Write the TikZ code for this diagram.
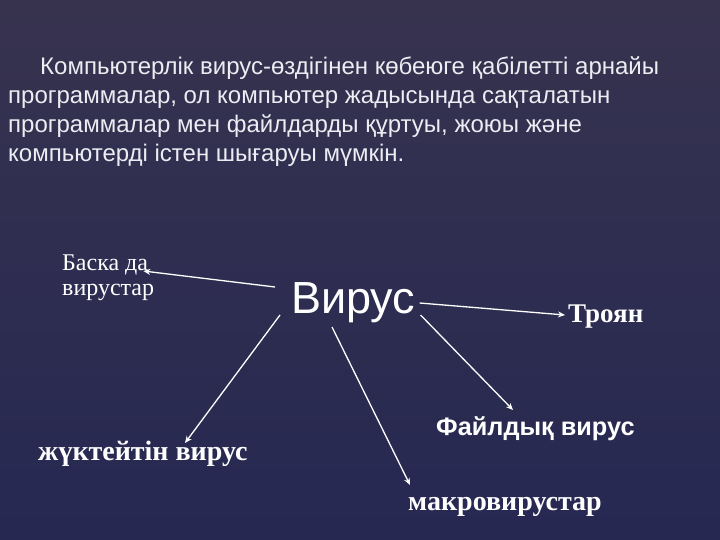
\documentclass[tikz,border=0pt]{standalone}
\usepackage{fontspec}
\setmainfont{Liberation Serif}
\newfontfamily\arialf{Liberation Sans}
\usetikzlibrary{arrows.meta,calc}
\definecolor{bgtop}{HTML}{37334F}
\definecolor{bgbot}{HTML}{262852}
\definecolor{paratext}{HTML}{ECECF2}
\begin{document}
\begin{tikzpicture}[x=1pt,y=-1pt,
  txt/.style={inner sep=0pt, anchor=base west, text=white},
  para/.style={txt, font=\arialf\fontsize{24}{27}\selectfont, text=paratext},
  serif/.style={txt, font=\fontsize{24}{27}\selectfont},
  serifb/.style={txt, font=\bfseries\fontsize{28}{31}\selectfont},
  arr/.style={draw=white, line width=1.3pt, -{Stealth[length=7pt,width=6pt]}}]
\shade[top color=bgtop, bottom color=bgbot] (0,0) rectangle (720,540);
\useasboundingbox (0,0) rectangle (720,540);

\node[para] (p1) at (40,75) {Компьютерлік вирус-өздігінен көбеюге қабілетті арнайы};
\node[para] (p2) at (8,104) {программалар, ол компьютер жадысында сақталатын};
\node[para] (p3) at (8,133) {программалар мен файлдарды құртуы, жоюы және};
\node[para] (p4) at (8,162) {компьютерді істен шығаруы мүмкін.};

\node[serif] (oth) at (62,270) {Баска да};
\node[serif] (oth2) at (62,295) {вирустар};
\node[txt, font=\arialf\fontsize{45}{50}\selectfont] (vir) at (291,313) {Вирус};
\node[txt, font=\bfseries\fontsize{27}{30}\selectfont] (troy) at (568,322) {Троян};
\node[serifb] (zhuk) at (38,460) {жүктейтін вирус};
\node[txt, font=\arialf\bfseries\fontsize{25.3}{28}\selectfont] (fayl) at (436,435) {Файлдық вирус};
\node[serifb] (makro) at (408,510) {макровирустар};

\draw[arr] ([shift={(-16,-26)}]vir.base west) -- ([shift={(-5,1)}]oth.base east);
\draw[arr] ([shift={(4,-10)}]vir.base east) -- ([shift={(-3,-7)}]troy.base west);
\draw[arr] ([shift={(-11,2)}]vir.base west) -- ([shift={(147,-17)}]zhuk.base west);
\draw[arr] ([shift={(41,14)}]vir.base west) -- ([shift={(2,-25)}]makro.base west);
\draw[arr] ([shift={(5,2)}]vir.base east) -- ([shift={(77,-25)}]fayl.base west);
\end{tikzpicture}
\end{document}
